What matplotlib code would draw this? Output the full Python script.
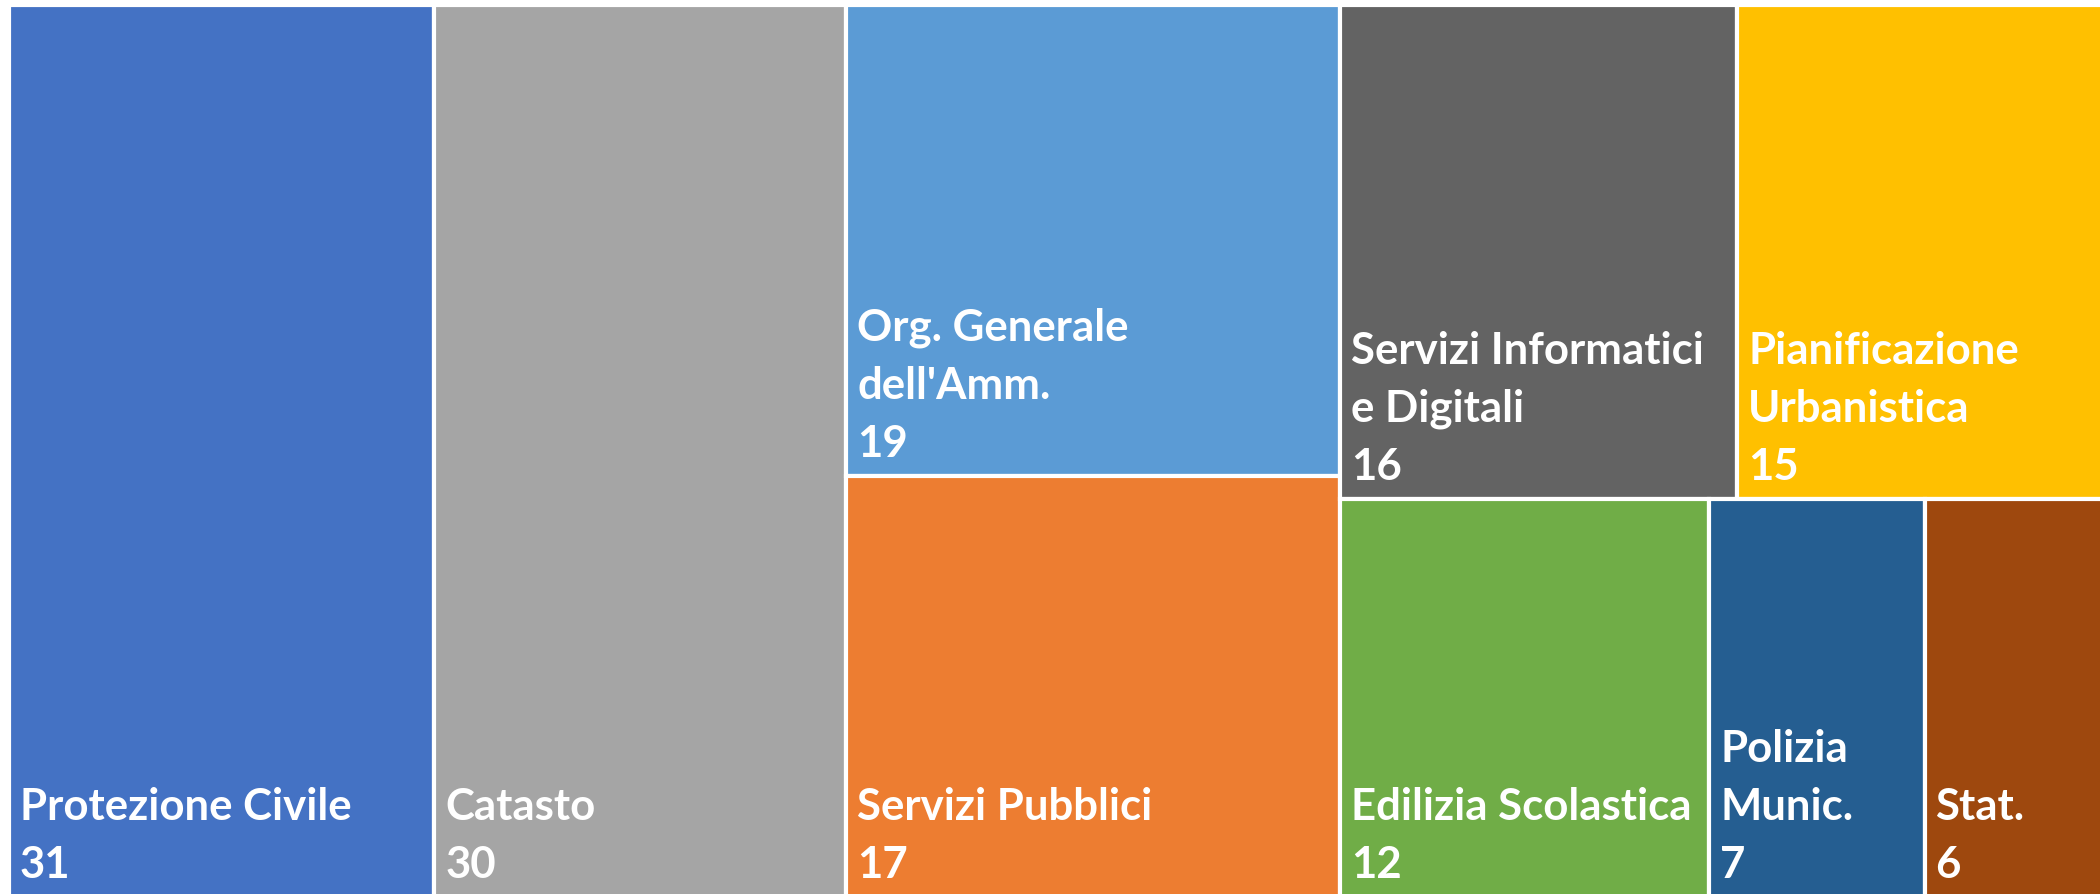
import matplotlib.pyplot as plt
from matplotlib.patches import Rectangle

# data
labels = ["Protezione Civile", "Catasto", "Org. Generale\ndell'Amm.", "Servizi Pubblici",
          "Servizi Informatici\ne Digitali", "Pianificazione\nUrbanistica",
          "Edilizia Scolastica", "Polizia\nMunic.", "Stat."]
values = [31, 30, 19, 17, 16, 15, 12, 7, 6]
colors = ["#4472C4", "#A5A5A5", "#5B9BD5", "#ED7D31", "#636363", "#FFC000",
          "#70AD47", "#255E91", "#9E480E"]

# layout groups (indices): vertical columns, then the last block split in rows
columns = [[0], [1], [2, 3]]
rows = [[4, 5], [6, 7, 8]]

W, H = 2100.0, 892.0
total = float(sum(values))
rects = {}
x = 0.0
for col in columns:
    s = sum(values[i] for i in col)
    w = W * s / total
    y = H
    for i in col:
        h = H * values[i] / s
        rects[i] = (x, y - h, w, h)
        y -= h
    x += w
rest = sum(values[i] for r in rows for i in r)
y = H
for r in rows:
    s = sum(values[i] for i in r)
    h = H * s / rest
    xx = x
    for i in r:
        w = (W - x) * values[i] / s
        rects[i] = (xx, y - h, w, h)
        xx += w
    y -= h

fig = plt.figure(figsize=(21, 8.95), dpi=100)
ax = fig.add_axes([9 / 2100, -3 / 895, W / 2100, H / 895])
ax.set_xlim(0, W)
ax.set_ylim(0, H)
ax.axis("off")

font = dict(family=["Lato", "DejaVu Sans"], weight="bold", size=31.5, color="white")
for i, (rx, ry, rw, rh) in rects.items():
    ax.add_patch(Rectangle((rx, ry), rw, rh, facecolor=colors[i], edgecolor="white", linewidth=3))
    lines = labels[i].split("\n") + [str(values[i])]
    for k, line in enumerate(reversed(lines)):
        ax.text(rx + 11, ry + 20 + k * 58, line, ha="left", va="baseline", **font)

fig.savefig("out.png", dpi=100)
